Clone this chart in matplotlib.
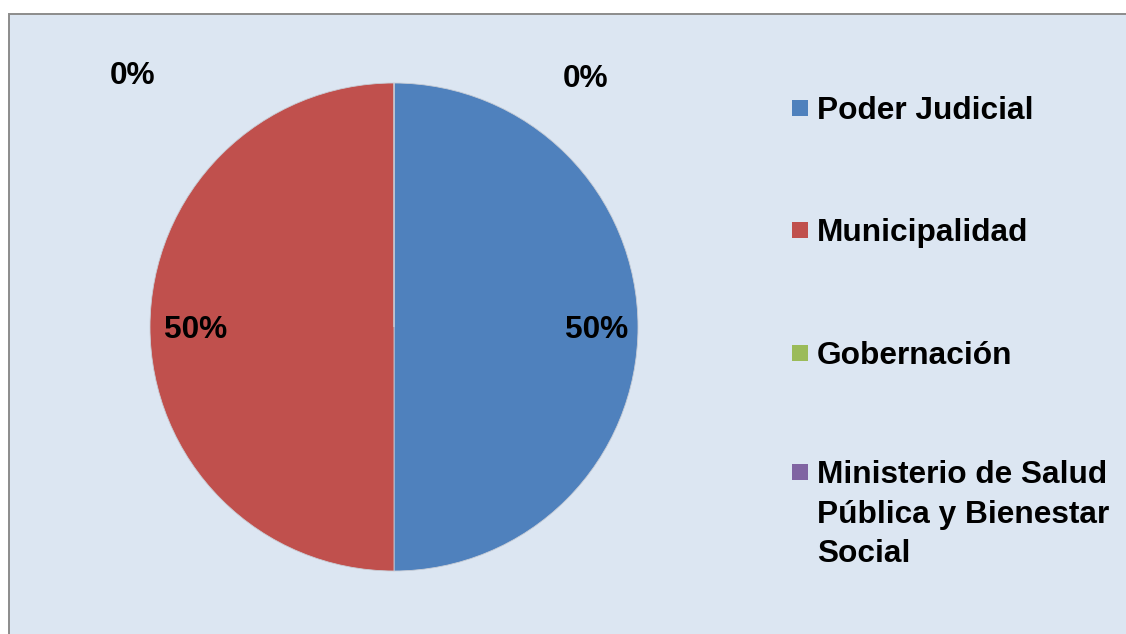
import matplotlib
matplotlib.use("Agg")
import matplotlib.pyplot as plt
from matplotlib.patches import Rectangle

categories = ["Poder Judicial", "Municipalidad", "Gobernación",
              "Ministerio de Salud\nPública y Bienestar\nSocial"]
values = [50, 50, 0, 0]
colors = ["#4F81BD", "#C0504D", "#9BBB59", "#8064A2"]

W, H = 1126, 634
fig = plt.figure(figsize=(W / 100, H / 100), dpi=100)
fig.patch.set_facecolor("white")

# chart area with grey frame (right and bottom edges run off the canvas)
bg = Rectangle((9 / W, -0.02), 1.0, (H - 14) / H + 0.02,
               transform=fig.transFigure,
               facecolor="#DCE6F2", edgecolor="#8C8C8C", linewidth=1.4,
               zorder=-5)
fig.patches.append(bg)

font = dict(family=["Liberation Sans", "DejaVu Sans"], weight="bold",
            fontsize=22.8, color="black")

# pie axes: centre (394, 327) px, radius 244 px
cx, cy, r = 394, 327, 244
ax = fig.add_axes([(cx - r) / W, (H - cy - r) / H, 2 * r / W, 2 * r / H])
ax.set_zorder(2)
ax.patch.set_visible(False)

wedges, _ = ax.pie(values, colors=colors, startangle=90, counterclock=False,
                   radius=1.0,
                   wedgeprops=dict(edgecolor="#C8CDD6", linewidth=0.6))
ax.set_xlim(-1, 1)
ax.set_ylim(-1, 1)
ax.set_aspect("equal")
ax.axis("off")

total = sum(values)
pcts = [f"{round(100 * v / total)}%" for v in values]

# label positions in pie units
label_pos = [(0.83, -0.012), (-0.815, -0.012), (0.785, 1.015), (-1.07, 1.03)]
for (x, y), txt in zip(label_pos, pcts):
    ax.text(x, y, txt, ha="center", va="center", clip_on=False, **font)

# legend
legend_y = [108, 230, 353, 472]
for lab, col, y in zip(categories, colors, legend_y):
    fig.patches.append(Rectangle((792 / W, (H - y - 8) / H), 16 / W, 16 / H,
                                 transform=fig.transFigure, facecolor=col,
                                 edgecolor="none", zorder=1))
    fig.text(817 / W, (H - y + 12) / H, lab, ha="left", va="top",
             linespacing=1.42, **font)

fig.savefig("out.png", dpi=100)
